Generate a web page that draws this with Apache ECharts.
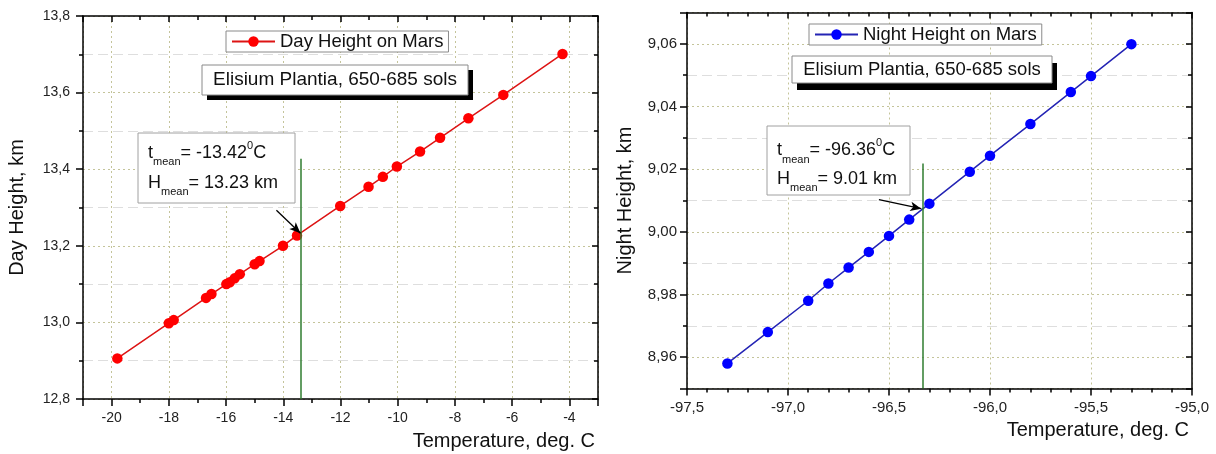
<!DOCTYPE html>
<html><head><meta charset="utf-8">
<script src="https://cdn.jsdelivr.net/npm/echarts@6/dist/echarts.min.js"></script>
<style>html,body{margin:0;padding:0;background:#fff}#c{width:1216px;height:454px}</style>
</head><body><div id="c"></div>
<script>
// ---- data ----
const dayTemp   = [-19.8, -18.0, -17.83, -16.7, -16.51, -15.99, -15.87, -15.7, -15.52, -15.0, -14.83, -14.01, -13.52, -12.01, -11.02, -10.52, -10.03, -9.22, -8.52, -7.53, -6.31, -4.24];
const dayHeight = [12.906, 12.998, 13.006, 13.064, 13.074, 13.100, 13.105, 13.115, 13.126, 13.152, 13.160, 13.200, 13.227, 13.304, 13.354, 13.380, 13.407, 13.446, 13.482, 13.533, 13.594, 13.701];
const nightTemp   = [-97.3, -97.1, -96.9, -96.8, -96.7, -96.6, -96.5, -96.4, -96.3, -96.1, -96.0, -95.8, -95.6, -95.5, -95.3];
const nightHeight = [8.958, 8.968, 8.978, 8.9835, 8.9886, 8.9936, 8.9987, 9.0039, 9.009, 9.0192, 9.0243, 9.0344, 9.0446, 9.0497, 9.0599];

const dayXTicks   = [-20, -18, -16, -14, -12, -10, -8, -6, -4];
const dayYTicks   = [12.8, 13.0, 13.2, 13.4, 13.6, 13.8];
const nightXTicks = [-97.5, -97.0, -96.5, -96.0, -95.5, -95.0];
const nightYTicks = [8.96, 8.98, 9.00, 9.02, 9.04, 9.06];

const dayMeanLine   = [[-13.40, 12.8], [-13.40, 13.427]];
const dayArrow      = [[-14.24, 13.293], [-13.40, 13.233]];
const nightMeanLine = [[-96.335, 8.95], [-96.335, 9.0218]];
const nightArrow    = [[-96.55, 9.0103], [-96.34, 9.0074]];

const dayName = 'Day Height on Mars';
const nightName = 'Night Height on Mars';
const siteText = 'Elisium Plantia, 650-685 sols';
// annotation lines: [text, kind] kind: m = main, s = subscript, p = superscript
const dayAnno = [
  [['t', 'm'], ['mean', 's'], ['= -13.42', 'm'], ['0', 'p'], ['C', 'm']],
  [['H', 'm'], ['mean', 's'], ['= 13.23 km', 'm']]
];
const nightAnno = [
  [['t', 'm'], ['mean', 's'], ['= -96.36', 'm'], ['0', 'p'], ['C', 'm']],
  [['H', 'm'], ['mean', 's'], ['= 9.01 km', 'm']]
];

// ---- styling ----
const FONT = 'Liberation Sans, Arial, sans-serif';
const INK = '#111';
const majorGrid = { show: true, lineStyle: { color: '#c4c49a', type: [2, 3], width: 1 } };
const minorGrid = { show: true, lineStyle: { color: '#dedede', type: [10, 5], width: 1 } };

function inList(list, v, dec) {
  return list.some(t => Math.abs(t - v) < Math.pow(10, -dec) / 2);
}
function fmt(list, dec) {
  return v => inList(list, v, dec + 1) ? v.toFixed(dec).replace('.', ',') : '';
}

function mainX(g, min, max, sn, msn, ticks, dec, name, fs) {
  return {
    gridIndex: g, type: 'value', position: 'bottom', min, max, splitNumber: sn,
    axisLine: { show: true, onZero: false, lineStyle: { color: '#000', width: 1.5 } },
    axisTick: { show: true, inside: false, length: 7, lineStyle: { color: '#000', width: 1.5 } },
    minorTick: { show: true, splitNumber: msn, length: 4, lineStyle: { color: '#000', width: 1.5 } },
    splitLine: majorGrid, minorSplitLine: { show: false },
    axisLabel: { show: true, margin: 12, fontSize: fs, color: '#222', fontFamily: FONT, formatter: fmt(ticks, dec) },
    name, nameLocation: 'end', nameGap: -3, nameMoveOverlap: false,
    nameTextStyle: { fontSize: 20, fontFamily: FONT, color: INK, align: 'right', verticalAlign: 'top', padding: [32, 0, 0, 0] }
  };
}
function mainY(g, min, max, sn, ticks, dec, name, gap, fs, margin) {
  return {
    gridIndex: g, type: 'value', position: 'left', min, max, splitNumber: sn,
    axisLine: { show: true, onZero: false, lineStyle: { color: '#000', width: 1.5 } },
    axisTick: { show: true, inside: false, length: 7, lineStyle: { color: '#000', width: 1.5 } },
    minorTick: { show: true, splitNumber: 2, length: 4, lineStyle: { color: '#000', width: 1.5 } },
    splitLine: majorGrid, minorSplitLine: minorGrid,
    axisLabel: { show: true, margin, fontSize: fs, color: '#222', fontFamily: FONT, formatter: fmt(ticks, dec) },
    name, nameLocation: 'middle', nameGap: gap, nameMoveOverlap: false,
    nameTextStyle: { fontSize: 20, fontFamily: FONT, color: INK }
  };
}
function mirror(g, pos, min, max, sn, msn) {
  return {
    gridIndex: g, type: 'value', position: pos, min, max, splitNumber: sn,
    axisLine: { show: true, onZero: false, lineStyle: { color: '#000', width: 1.5 } },
    axisTick: { show: true, inside: true, length: 6, lineStyle: { color: '#000', width: 1.5 } },
    minorTick: { show: true, splitNumber: msn, length: 4, lineStyle: { color: '#000', width: 1.5 } },
    axisLabel: { show: false }, splitLine: { show: false }, minorSplitLine: { show: false }
  };
}

function markLines(meanLine, arrow) {
  return {
    silent: true, animation: false, symbol: ['none', 'none'], label: { show: false },
    emphasis: { disabled: true },
    data: [
      [{ coord: meanLine[0], lineStyle: { color: '#2f7d2f', width: 1.5, type: 'solid' } }, { coord: meanLine[1] }],
      [{ coord: arrow[0], lineStyle: { color: '#000', width: 1.3, type: 'solid' } },
       { coord: arrow[1], symbol: 'arrow', symbolSize: [7, 11] }]
    ]
  };
}

function legendCfg(name, left, top) {
  return {
    data: [name], left, top, orient: 'horizontal', selectedMode: false,
    borderColor: '#8a8a8a', borderWidth: 1, backgroundColor: '#fff', borderRadius: 0,
    padding: [1, 5, 1, 5], itemWidth: 43, itemHeight: 13,
    textStyle: { fontSize: 18.5, color: INK, fontFamily: FONT }
  };
}

// text measurement for the subscript / superscript annotation layout
const mctx = document.createElement('canvas').getContext('2d');
function textW(s, fs) { mctx.font = fs + 'px ' + FONT; return mctx.measureText(s).width; }
const KIND = { m: { fs: 18, dy: 0 }, s: { fs: 11, dy: 7 }, p: { fs: 11, dy: -9.5 } };

function annoLine(pieces, x0, baseline) {
  const out = [];
  let x = x0;
  pieces.forEach(([txt, k]) => {
    const K = KIND[k];
    const cy = baseline + K.dy - 0.3465 * K.fs;
    out.push({ type: 'text', z: 102, x, y: cy,
      style: { text: txt, font: K.fs + 'px ' + FONT, fill: INK, align: 'left', verticalAlign: 'middle' } });
    x += textW(txt, K.fs);
  });
  return out;
}

function siteBox(x, y, w, h, dx, dy, fs) {
  return [
    { type: 'rect', z: 100, shape: { x: x + dx, y: y + dy, width: w, height: h }, style: { fill: '#000' } },
    { type: 'rect', z: 101, shape: { x, y, width: w, height: h }, style: { fill: '#fff', stroke: '#8a8a8a', lineWidth: 1 } },
    { type: 'text', z: 102, x: x + w / 2, y: y + h / 2,
      style: { text: siteText, font: fs + 'px ' + FONT, fill: INK, align: 'center', verticalAlign: 'middle' } }
  ];
}
function annoBox(x, y, w, h, tx, b1, b2, a) {
  return [
    { type: 'rect', z: 100, shape: { x, y, width: w, height: h }, style: { fill: '#fff', stroke: '#a0a0a0', lineWidth: 1 } }
  ].concat(annoLine(a[0], tx, b1), annoLine(a[1], tx, b2));
}

const chart = echarts.init(document.getElementById('c'), null, { renderer: 'canvas' });
chart.setOption({
  animation: false,
  backgroundColor: '#fff',
  textStyle: { fontFamily: FONT },
  grid: [
    { left: 83, top: 16, width: 515, height: 383, containLabel: false },
    { left: 687, top: 12.5, width: 505, height: 376, containLabel: false }
  ],
  xAxis: [
    mainX(0, -21, -3, 9, 2, dayXTicks, 0, 'Temperature, deg. C', 14),
    mirror(0, 'top', -21, -3, 9, 2),
    mainX(1, -97.5, -95.0, 5, 5, nightXTicks, 1, 'Temperature, deg. C', 15),
    mirror(1, 'top', -97.5, -95.0, 5, 5)
  ],
  yAxis: [
    mainY(0, 12.8, 13.8, 5, dayYTicks, 1, 'Day Height, km', 56, 14, 13),
    mirror(0, 'right', 12.8, 13.8, 5, 2),
    mainY(1, 8.95, 9.07, 6, nightYTicks, 2, 'Night Height, km', 52, 15, 10),
    mirror(1, 'right', 8.95, 9.07, 6, 2)
  ],
  legend: [legendCfg(dayName, 226, 31), legendCfg(nightName, 809, 24)],
  series: [
    {
      type: 'line', name: dayName, xAxisIndex: 0, yAxisIndex: 0, z: 3,
      data: dayTemp.map((t, i) => [t, dayHeight[i]]),
      symbol: 'circle', symbolSize: 10.5, showAllSymbol: true,
      itemStyle: { color: '#ff0000' }, lineStyle: { color: '#dd1414', width: 1.5 },
      emphasis: { disabled: true },
      markLine: markLines(dayMeanLine, dayArrow)
    },
    {
      type: 'line', name: nightName, xAxisIndex: 2, yAxisIndex: 2, z: 3,
      data: nightTemp.map((t, i) => [t, nightHeight[i]]),
      symbol: 'circle', symbolSize: 10.5, showAllSymbol: true,
      itemStyle: { color: '#0000ff' }, lineStyle: { color: '#2424b4', width: 1.5 },
      emphasis: { disabled: true },
      markLine: markLines(nightMeanLine, nightArrow)
    }
  ],
  graphic: [].concat(
    siteBox(202, 65, 266, 30, 5, 5, 19),
    siteBox(792, 56, 260, 27, 5, 7, 18.5),
    annoBox(138, 133, 157, 70, 148, 159, 189, dayAnno),
    annoBox(767, 126, 143, 69, 777, 156.5, 185, nightAnno)
  )
});
</script></body></html>
